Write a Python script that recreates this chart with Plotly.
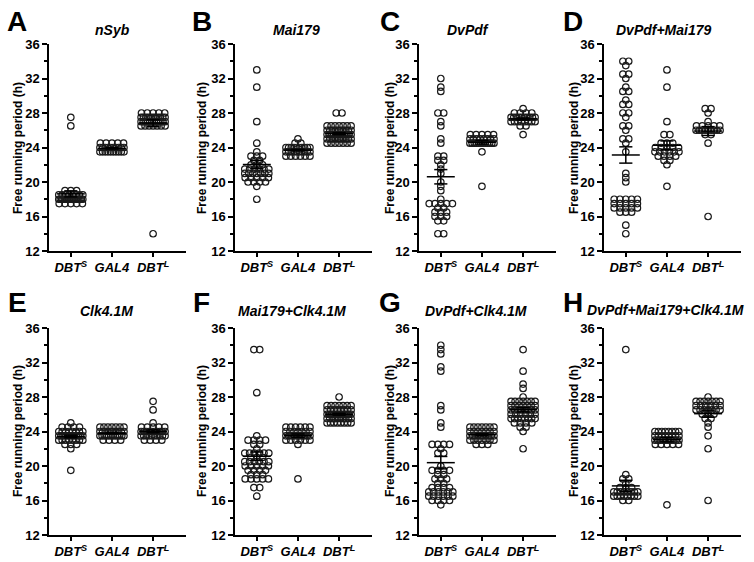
import numpy as np
import plotly.graph_objects as go

# ---------------- data ----------------
CATEGORIES = ["DBT<sup>S</sup>", "GAL4", "DBT<sup>L</sup>"]
PANEL_LETTERS = ["A", "B", "C", "D", "E", "F", "G", "H"]
PANEL_TITLES = ["nSyb", "Mai179", "DvPdf", "DvPdf+Mai179",
                "Clk4.1M", "Mai179+Clk4.1M", "DvPdf+Clk4.1M", "DvPdf+Mai179+Clk4.1M"]
Y_TICKS = [12, 16, 20, 24, 28, 32, 36]
Y_MINOR = [14, 18, 22, 26, 30, 34]
Y_LABEL = "Free running period (h)"

# A: nSyb
nsyb_dbts = [27.5, 26.5, 19, 19, 19, 18.5, 18.5, 18.5, 18.5, 18.5, 18.5, 18.5, 18.5,
             18, 18, 18, 18, 18, 18, 18, 18, 18, 18, 18, 18, 18, 18, 18, 18, 18, 18,
             17.5, 17.5, 17.5, 17.5, 17.5]
nsyb_gal4 = [24.5, 24.5, 24.5, 24.5, 24.5, 24, 24, 24, 24, 24, 24, 24, 24, 24, 24,
             23.5, 23.5, 23.5, 23.5, 23.5, 23.5, 23.5, 23.5, 23.5, 23.5]
nsyb_dbtl = [28, 28, 28, 28, 28, 27.5, 27.5, 27.5, 27.5, 27.5, 27.5, 27.5, 27.5, 27.5, 27.5, 27.5,
             27, 27, 27, 27, 27, 27, 27, 27, 27, 27, 27, 27,
             26.5, 26.5, 26.5, 26.5, 26.5, 26.5, 26.5, 14]

# B: Mai179
mai_dbts = [33, 31, 27, 24.5, 23.5, 23, 23, 23, 22.5, 22.5, 22, 22, 22,
            21.5, 21.5, 21.5, 21.5, 21.5, 21.5, 21, 21, 21, 21, 21, 21, 21,
            20.5, 20.5, 20.5, 20.5, 20.5, 20, 20, 20, 20, 19.5, 18]
mai_gal4 = [25, 24.5, 24.5, 24, 24, 24, 24, 24, 24, 24, 24, 24, 24,
            23.5, 23.5, 23.5, 23.5, 23.5, 23.5, 23.5, 23.5, 23.5, 23.5,
            23, 23, 23, 23, 23, 23]
mai_dbtl = [28, 28, 26.5, 26.5, 26.5, 26.5, 26.5, 26.5, 26.5,
            26, 26, 26, 26, 26, 26, 26, 26, 26, 26,
            25.5, 25.5, 25.5, 25.5, 25.5, 25.5, 25.5, 25.5, 25.5, 25.5, 25.5, 25.5,
            25, 25, 25, 25, 25, 25, 25, 25, 25, 25,
            24.5, 24.5, 24.5, 24.5, 24.5, 24.5, 24.5]

# C: DvPdf
pdf_dbts = [32, 31, 30.5, 28, 28, 27, 26.5, 25, 24.5, 23, 23, 22.5, 22.5, 22, 21.5, 21,
            20, 19.5, 19, 18, 17.5, 17.5, 17.5, 17.5, 17.5, 17, 17, 16.5, 16.5, 16.5,
            16, 16, 16, 15.5, 15.5, 14, 14]
pdf_gal4 = [25.5, 25.5, 25.5, 25.5, 25.5, 25, 25, 25, 25, 25, 25, 25, 25,
            24.5, 24.5, 24.5, 24.5, 24.5, 24.5, 24.5, 24.5, 24.5, 24.5, 24.5, 24.5,
            23.5, 19.5]
pdf_dbtl = [28.5, 28, 28, 28, 28, 27.5, 27.5, 27.5, 27.5, 27.5, 27.5, 27.5, 27.5, 27.5, 27.5,
            27, 27, 27, 27, 27, 27, 27, 27, 26.5, 26.5, 25.5]

# D: DvPdf+Mai179
pm_dbts = [34, 34, 33.5, 32.5, 32.5, 32, 31, 30.5, 30.5, 29.5, 29, 29, 28, 28, 27.5,
           26.5, 26.5, 26, 25, 25, 24.5, 23.5, 21, 20.5, 20,
           18, 18, 18, 18, 18, 17.5, 17.5, 17.5, 17.5, 17.5, 17, 17, 17, 17, 17,
           16.5, 16.5, 16.5, 15, 14]
pm_gal4 = [33, 31, 27, 25.5, 25.5, 24.5, 24.5, 24.5, 24, 24, 24, 24, 24,
           23.5, 23.5, 23.5, 23.5, 23.5, 23.5, 23, 23, 23, 23, 22.5, 22.5, 22, 19.5]
pm_dbtl = [28.5, 28.5, 28, 27, 26.5, 26.5, 26.5, 26.5, 26.5,
           26, 26, 26, 26, 26, 26, 26, 26, 26, 25.5, 25.5, 24.5, 16]

# E: Clk4.1M
clk_dbts = [25, 24.5, 24.5, 24.5, 24.5, 24, 24, 24, 24, 24, 24, 24, 24,
            23.5, 23.5, 23.5, 23.5, 23.5, 23.5, 23.5, 23.5, 23.5, 23.5, 23.5, 23.5,
            23, 23, 23, 23, 23, 23, 23, 23, 22.5, 22.5, 22.5, 22, 19.5]
clk_gal4 = [24.5, 24.5, 24.5, 24.5, 24.5, 24.5, 24.5, 24, 24, 24, 24, 24, 24, 24, 24, 24, 24,
            23.5, 23.5, 23.5, 23.5, 23.5, 23.5, 23.5, 23.5, 23.5, 23.5, 23.5, 23.5,
            23, 23, 23, 23]
clk_dbtl = [27.5, 26.5, 25, 24.5, 24.5, 24.5, 24.5, 24.5, 24, 24, 24, 24, 24, 24, 24, 24, 24, 24,
            23.5, 23.5, 23.5, 23.5, 23.5, 23.5, 23.5, 23.5, 23.5, 23.5, 23, 23, 23, 23]

# F: Mai179+Clk4.1M
mc_dbts = [33.5, 33.5, 28.5, 23.5, 23, 23, 23, 23, 22.5, 22.5, 22,
           21.5, 21.5, 21.5, 21.5, 21.5, 21.5, 21, 21, 21,
           20.5, 20.5, 20.5, 20.5, 20.5, 20.5, 20, 20, 20, 20, 20,
           19.5, 19.5, 19.5, 19.5, 19, 19, 19, 18.5, 18.5, 18.5, 18.5, 18.5,
           17.5, 17.5, 16.5]
mc_gal4 = [24.5, 24.5, 24.5, 24.5, 24.5, 24.5, 24, 24, 24, 24, 24, 24, 24,
           23.5, 23.5, 23.5, 23.5, 23.5, 23.5, 23.5, 23.5, 23.5, 23.5,
           23, 23, 23, 23, 23, 23, 22.5, 18.5]
mc_dbtl = [28, 27, 27, 27, 27, 27, 27, 27, 26.5, 26.5, 26.5, 26.5, 26.5, 26.5, 26.5, 26.5,
           26, 26, 26, 26, 26, 26, 26, 26, 26, 26, 26, 26,
           25.5, 25.5, 25.5, 25.5, 25.5, 25.5, 25.5, 25.5, 25.5, 25.5,
           25, 25, 25, 25, 25, 25, 25, 25]

# G: DvPdf+Clk4.1M
pc_dbts = [34, 33.5, 33, 31.5, 31, 27, 26.5, 25, 24.5, 22.5, 22.5, 22.5, 22.5, 22,
           21.5, 21.5, 20, 19.5, 19.5, 19.5, 19.5, 19, 19, 18.5, 18.5, 18.5, 18, 18,
           17.5, 17.5, 17.5, 17.5, 17, 17, 17, 17, 17, 17, 16.5, 16.5, 16.5, 16.5, 16.5, 16.5,
           16, 16, 16, 16, 15.5]
pc_gal4 = [24.5, 24.5, 24.5, 24.5, 24.5, 24.5, 24.5, 24, 24, 24, 24, 24, 24, 24,
           23.5, 23.5, 23.5, 23.5, 23.5, 23.5, 23.5, 23.5, 23.5, 23.5,
           23, 23, 23, 23, 23, 23, 23, 22.5, 22.5, 22.5]
pc_dbtl = [33.5, 31, 29.5, 29, 28, 27.5, 27.5, 27.5, 27.5, 27.5, 27.5, 27.5,
           27, 27, 27, 27, 27, 27, 27, 26.5, 26.5, 26.5, 26.5, 26.5, 26.5, 26.5, 26.5,
           26, 26, 26, 26, 26, 26, 25.5, 25.5, 25.5, 25.5, 25.5, 25.5, 25.5, 25.5,
           25, 25, 25, 25, 24.5, 24.5, 24, 22]

# H: DvPdf+Mai179+Clk4.1M
pmc_dbts = [33.5, 19, 18.5, 18.5, 18, 17.5, 17.5, 17.5, 17, 17, 17, 17, 17, 17, 17, 17,
            16.5, 16.5, 16.5, 16.5, 16.5, 16.5, 16.5, 16.5, 16, 16]
pmc_gal4 = [24, 24, 24, 24, 24, 24, 24, 24, 23.5, 23.5, 23.5, 23.5, 23.5, 23.5, 23.5, 23.5,
            23, 23, 23, 23, 23, 23, 23, 23, 23, 23, 22.5, 22.5, 22.5, 22.5, 22.5, 15.5]
pmc_dbtl = [28, 27.5, 27.5, 27.5, 27.5, 27.5, 27.5, 27.5, 27, 27, 27, 27, 27, 27,
            26.5, 26.5, 26.5, 26.5, 26.5, 26.5, 26.5, 26, 26, 26, 25.5, 25.5,
            25, 24.5, 23.5, 22, 16]

PANELS = [
    [nsyb_dbts, nsyb_gal4, nsyb_dbtl],
    [mai_dbts, mai_gal4, mai_dbtl],
    [pdf_dbts, pdf_gal4, pdf_dbtl],
    [pm_dbts, pm_gal4, pm_dbtl],
    [clk_dbts, clk_gal4, clk_dbtl],
    [mc_dbts, mc_gal4, mc_dbtl],
    [pc_dbts, pc_gal4, pc_dbtl],
    [pmc_dbts, pmc_gal4, pmc_dbtl],
]

# ---------------- layout geometry (pixels) ----------------
W, H = 754, 562
COL_LEFT = [49, 235, 419, 604]
PLOT_W = 137
ROW_TOP = [44, 328]
PLOT_H = 207
X_RANGE = [-0.53, 2.8]
PX_PER_UNIT = PLOT_W / (X_RANGE[1] - X_RANGE[0])
DOT_SPACING_PX = 5.8
MAX_HALF_PX = 12.0

LETTER_POS = [(17, 22), (202, 22), (390, 22), (573, 22),
              (17, 302), (201, 302), (390, 302), (573, 302)]
TITLE_POS = [(112, 30), (296, 30), (468, 30), (664, 30),
             (106, 311), (292, 311), (476, 311), (665, 310)]
TITLE_SIZE = [14, 14, 14, 14, 14, 14, 14, 14]
YTITLE_X = [18, 202, 390, 574]
YTITLE_Y = [148, 431]

FONT = "Arial, Liberation Sans, sans-serif"


def px(x):
    return x / W


def py(y):
    return 1 - y / H


def row_offsets(values):
    """Prism-style column scatter: identical values share a centred row."""
    vals = np.asarray(values, dtype=float)
    offs = np.zeros(len(vals))
    for v in np.unique(vals):
        idx = np.where(vals == v)[0]
        n = len(idx)
        if n == 1:
            continue
        sp = DOT_SPACING_PX
        if (n - 1) * sp / 2 > MAX_HALF_PX:
            sp = 2 * MAX_HALF_PX / (n - 1)
        o = (np.arange(n) - (n - 1) / 2) * sp
        offs[idx] = o / PX_PER_UNIT
    return offs


fig = go.Figure()
layout = {}
annotations = []

for k, groups in enumerate(PANELS):
    r, c = divmod(k, 4)
    xa = "x" if k == 0 else f"x{k+1}"
    ya = "y" if k == 0 else f"y{k+1}"
    xkey = "xaxis" if k == 0 else f"xaxis{k+1}"
    ykey = "yaxis" if k == 0 else f"yaxis{k+1}"

    xs, ys = [], []
    lx, ly = [], []
    for i, vals in enumerate(groups):
        offs = row_offsets(vals)
        xs.extend(list(i + offs))
        ys.extend(vals)
        arr = np.asarray(vals, dtype=float)
        m = arr.mean()
        s = arr.std(ddof=1) / np.sqrt(len(arr))
        lx += [i - 0.34, i + 0.34, None]
        ly += [m, m, None]
        lx += [i, i, None, i - 0.16, i + 0.16, None, i - 0.16, i + 0.16, None]
        ly += [m - s, m + s, None, m + s, m + s, None, m - s, m - s, None]

    fig.add_trace(go.Scatter(
        x=xs, y=ys, mode="markers", xaxis=xa, yaxis=ya, showlegend=False,
        marker=dict(symbol="circle-open", size=6.5, color="#1a1a1a",
                    line=dict(width=1.2, color="#1a1a1a")),
        hoverinfo="y"))
    fig.add_trace(go.Scatter(
        x=lx, y=ly, mode="lines", xaxis=xa, yaxis=ya, showlegend=False,
        line=dict(color="black", width=1.5), hoverinfo="skip"))

    left = COL_LEFT[c]
    top = ROW_TOP[r]
    layout[xkey] = dict(
        domain=[px(left), px(left + PLOT_W)], range=X_RANGE, anchor=ya,
        automargin=False,
        tickmode="array", tickvals=[0, 1, 2], ticktext=CATEGORIES,
        ticks="outside", ticklen=4, tickwidth=1.5, tickcolor="black",
        showline=True, linecolor="black", linewidth=1.5,
        showgrid=False, zeroline=False, fixedrange=True,
        tickfont=dict(family=FONT, size=13, color="black",
                      weight="bold", style="italic"))
    layout[ykey] = dict(
        domain=[py(top + PLOT_H), py(top)], range=[12, 36], anchor=xa,
        automargin=False,
        tickmode="array", tickvals=Y_TICKS,
        ticks="outside", ticklen=5, tickwidth=1.5, tickcolor="black",
        minor=dict(tickmode="array", tickvals=Y_MINOR, ticks="outside",
                   ticklen=3, tickwidth=1.5, tickcolor="black", showgrid=False),
        showline=True, linecolor="black", linewidth=1.5,
        showgrid=False, zeroline=False, fixedrange=True,
        tickfont=dict(family=FONT, size=13, color="black", weight="bold"))

    lxp, lyp = LETTER_POS[k]
    annotations.append(dict(
        x=px(lxp), y=py(lyp), xref="paper", yref="paper", showarrow=False,
        text=PANEL_LETTERS[k], xanchor="center", yanchor="middle",
        font=dict(family=FONT, size=28, color="black", weight="bold")))
    txp, typ = TITLE_POS[k]
    annotations.append(dict(
        x=px(txp), y=py(typ), xref="paper", yref="paper", showarrow=False,
        text=PANEL_TITLES[k], xanchor="center", yanchor="middle",
        font=dict(family=FONT, size=TITLE_SIZE[k], color="black",
                  weight="bold", style="italic")))
    annotations.append(dict(
        x=px(YTITLE_X[c]), y=py(YTITLE_Y[r]), xref="paper", yref="paper",
        showarrow=False, textangle=-90,
        text=Y_LABEL, xanchor="center", yanchor="middle",
        font=dict(family=FONT, size=12, color="black", weight="bold")))

fig.update_layout(
    template="none",
    width=W, height=H, margin=dict(l=0, r=0, t=0, b=0, autoexpand=False),
    paper_bgcolor="white", plot_bgcolor="white",
    annotations=annotations, **layout)

fig.write_html("out.html", config={"displayModeBar": False},
               post_script="document.body.style.margin='0px';")
